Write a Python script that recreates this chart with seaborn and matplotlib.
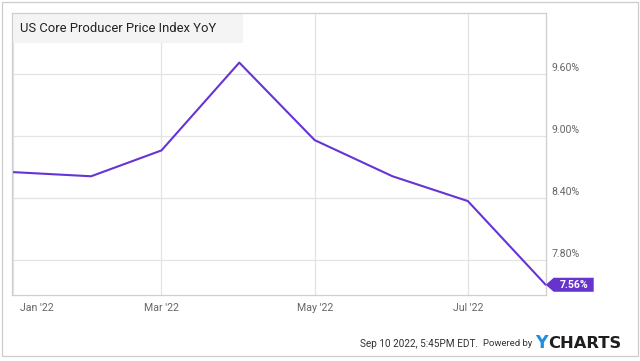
import matplotlib
matplotlib.use("Agg")
import matplotlib.pyplot as plt
import matplotlib.transforms as mtransforms
import matplotlib.dates as mdates
from matplotlib.patches import Rectangle, Polygon
import pandas as pd
import seaborn as sns

# ---- data ----
dates = ["2022-01-01", "2022-02-01", "2022-03-01", "2022-04-01",
         "2022-05-01", "2022-06-01", "2022-07-01", "2022-08-01"]
values = [8.65, 8.61, 8.86, 9.71, 8.96, 8.61, 8.37, 7.56]
y_ticks = [7.80, 8.40, 9.00, 9.60]
x_tick_dates = ["2022-01-01", "2022-03-01", "2022-05-01", "2022-07-01"]
x_tick_labels = ["Jan '22", "Mar '22", "May '22", "Jul '22"]
title = "US Core Producer Price Index YoY"
footer = "Sep 10 2022, 5:45PM EDT."

sns.set_style("white")
plt.rcParams['font.family'] = ['Roboto', 'DejaVu Sans']

W, H = 640, 361
fig = plt.figure(figsize=(6.4, 3.61), dpi=100)
L, R, T, B = 12, 545.7, 13, 295
ax = fig.add_axes([L / W, 1 - B / H, (R - L) / W, (B - T) / H])

df = pd.DataFrame({"date": pd.to_datetime(dates), "value": values})
line_color = "#6534d6"
sns.lineplot(data=df, x="date", y="value", ax=ax, color=line_color, linewidth=1.5)

ax.set_xlim(pd.Timestamp("2021-12-31 12:00"), pd.Timestamp("2022-08-01"))
ax.set_ylim(7.461, 10.19)
ax.set_xlabel("")
ax.set_ylabel("")

ax.yaxis.tick_right()
ax.set_yticks(y_ticks)
ax.set_yticklabels([f"{v:.2f}%" for v in y_ticks])
ax.set_xticks(pd.to_datetime(x_tick_dates))
ax.set_xticklabels(x_tick_labels)
ax.tick_params(axis="both", length=0, labelsize=7.6, labelcolor="#666666")
ax.tick_params(axis="x", pad=5.5)
ax.tick_params(axis="y", pad=4)
ax.grid(True, color="#e3e3e3", linewidth=0.9)
for s in ax.spines.values():
    s.set_color("#cfcfcf")
    s.set_linewidth(0.9)

for lab in ax.get_yticklabels():
    lab.set_verticalalignment("bottom")
    lab.set_transform(lab.get_transform() + mtransforms.ScaledTranslation(0, 1 / 100, fig.dpi_scale_trans))
xl = ax.get_xticklabels()
xl[0].set_transform(xl[0].get_transform() + mtransforms.ScaledTranslation(24 / 100, 0, fig.dpi_scale_trans))

# title box
ax.add_patch(Rectangle((0, 1 - 30 / (B - T)), (243 - L) / (R - L), 30 / (B - T),
                       transform=ax.transAxes, facecolor="#f4f4f4", edgecolor="none", zorder=1))
fig.text(20 / W, 1 - 28 / H, title, fontsize=9.4, color="#222222", va="center", ha="left")

# end value label
last_x = df["date"].iloc[-1]
last_y = values[-1]
tr = fig.dpi_scale_trans + mtransforms.ScaledTranslation(
    mdates.date2num(last_x), last_y, ax.transData)
verts = [(0, 0), (0.08, 0.07), (0.48, 0.07), (0.48, -0.07), (0.08, -0.07)]
poly = Polygon(verts, closed=True, transform=tr, facecolor="#6633cc", edgecolor="none",
               clip_on=False, zorder=5)
ax.add_patch(poly)
ax.text(0.28, -0.003, f"{last_y:.2f}%", transform=tr, color="white", fontsize=7.6,
        fontweight="bold", ha="center", va="center", clip_on=False, zorder=6)

# outer frame
fig.patches.append(Rectangle((2 / W, 1 - 356 / H), 636 / W, 354 / H, transform=fig.transFigure,
                             facecolor="none", edgecolor="#cccccc", linewidth=0.9, zorder=0))

# footer
fig.text(478 / W, 1 - 344 / H, footer, fontsize=7.2, color="#333333", ha="right", va="center")
fig.text(532 / W, 1 - 344 / H, "Powered by", fontsize=6.8, color="#333333", ha="right", va="center")
fig.text(535 / W, 1 - 343 / H, "Y", fontsize=12.5, color="#1a8fe3", ha="left", va="center",
         fontweight="bold", family="DejaVu Sans")
fig.text(548 / W, 1 - 343 / H, "CHARTS", fontsize=11.8, color="#1e1e1e", ha="left", va="center",
         fontweight="bold", family="DejaVu Sans")

fig.savefig("out.png", dpi=100)
